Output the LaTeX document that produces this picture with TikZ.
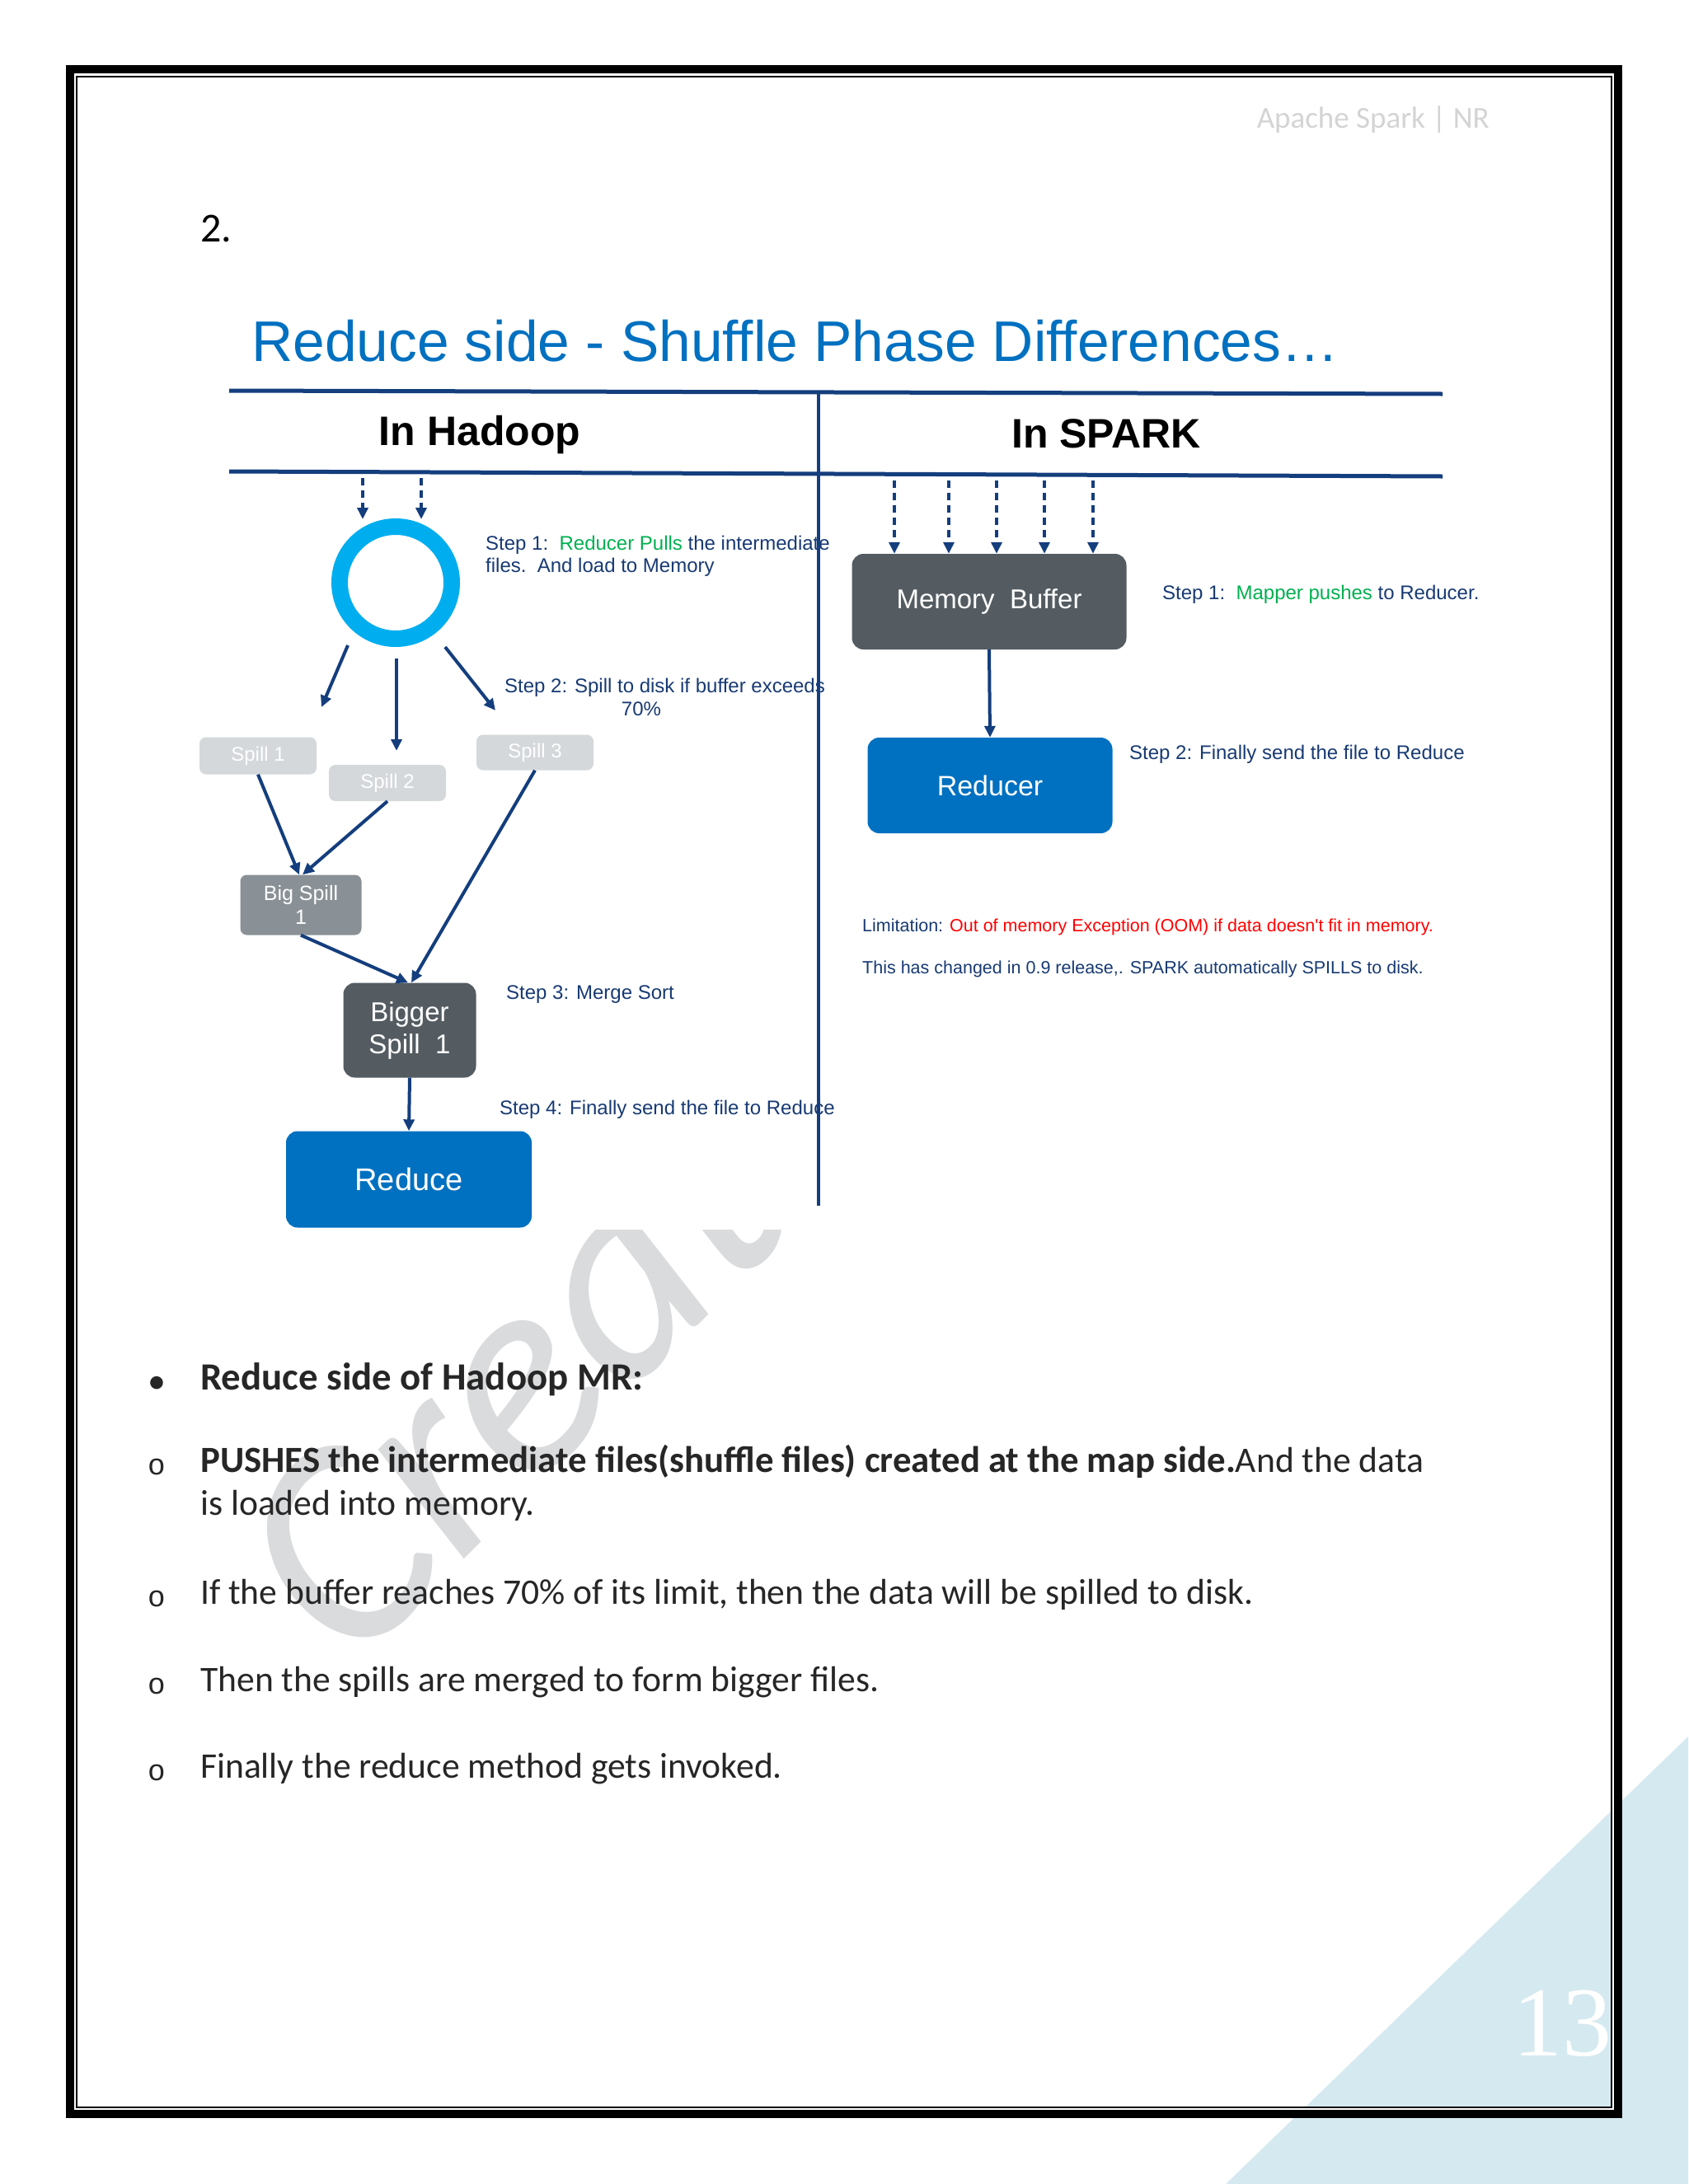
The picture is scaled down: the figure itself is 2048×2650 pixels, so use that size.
\documentclass[tikz,border=0pt]{standalone}
\usepackage{fontspec}
\setmainfont{Carlito}
\newfontfamily\arialf{Liberation Sans}
\newfontfamily\seriff{Liberation Serif}
\newfontfamily\monof{Liberation Mono}
\usetikzlibrary{arrows.meta}
\definecolor{navy}{RGB}{24,58,115}
\definecolor{linec}{RGB}{20,62,125}
\definecolor{grn}{RGB}{0,176,80}
\definecolor{ttl}{RGB}{0,112,192}
\definecolor{boxblue}{RGB}{0,112,192}
\definecolor{dgray}{RGB}{84,92,98}
\definecolor{mgray}{RGB}{138,145,150}
\definecolor{lgray}{RGB}{212,216,219}
\definecolor{ringc}{RGB}{0,174,239}
\definecolor{tri}{RGB}{213,233,240}
\definecolor{wm}{RGB}{218,219,221}
\definecolor{hdr}{RGB}{212,212,212}
\definecolor{bodyc}{RGB}{38,38,38}
\tikzset{
  steptext/.style={anchor=base west, inner sep=0pt, text=navy, font=\arialf\fontsize{24}{27}\selectfont},
  smalltext/.style={anchor=base west, inner sep=0pt, text=navy, font=\arialf\fontsize{21.5}{24}\selectfont},
  boxnode/.style={rounded corners=8pt, inner sep=0pt, align=center, text=white},
  arr/.style={draw=linec, line width=4pt, -{Triangle[length=14pt,width=13pt]}},
  dasharr/.style={draw=linec, line width=4pt, dash pattern=on 9pt off 6pt, -{Triangle[length=14pt,width=13pt]}},
  sepline/.style={draw=linec, line width=5pt},
  body/.style={anchor=base west, inner sep=0pt, text=bodyc, font=\fontsize{43.6}{52}\selectfont},
  bulletsym/.style={anchor=base, inner sep=0pt, text=bodyc}
}
\begin{document}
\begin{tikzpicture}[x=1pt,y=-1pt]
\useasboundingbox (0,0) rectangle (2048,2650);
\fill[white] (0,0) rectangle (2048,2650);
% corner triangle
\fill[tri] (2048,2107) -- (2048,2650) -- (1487,2650) -- cycle;
% watermark
\node[rotate=45, anchor=base west, inner sep=0pt, text=wm, font=\fontsize{350}{350}\selectfont\itshape] (wmark) at (425,2030) {Creat};
% diagram image background
\fill[white] (255,365) rectangle (1800,1492);
% page frame
\draw[line width=10pt, black] (85,84) rectangle (1963,2565);
\draw[line width=2pt, white] (91,90) rectangle (1957,2559);
\draw[line width=2pt, black] (93,93) rectangle (1955,2557);
% page number and header
\node[anchor=base east, inner sep=0pt, text=white, font=\seriff\fontsize{120}{120}\selectfont] (pg) at (1956,2494) {13};
\node[anchor=base east, inner sep=0pt, text=hdr, font=\fontsize{37}{37}\selectfont] (hdrtext) at (1807,155) {Apache Spark | NR};
\node[anchor=base west, inner sep=0pt, font=\fontsize{50}{50}\selectfont] (num) at (243,293) {2.};
% title
\node[anchor=base west, inner sep=0pt, text=ttl, font=\arialf\fontsize{69.5}{70}\selectfont] (title) at (305,438) {Reduce side - Shuffle Phase Differences…};
% column headings
\node[anchor=base, inner sep=0pt, font=\arialf\bfseries\fontsize{50}{50}\selectfont] (hadoop) at (582,540) {In Hadoop};
\node[anchor=base, inner sep=0pt, font=\arialf\bfseries\fontsize{50}{50}\selectfont] (spark) at (1342,543) {In SPARK};
% step texts (under the divider)
\node[steptext] (s1) at (589,667) {Step 1:\ \ \textcolor{grn}{Reducer Pulls} the intermediate};
\node[steptext] (s1b) at (589,694) {files.\ \ And load to Memory};
\node[steptext] (s2) at (612,840) {Step 2: Spill to disk if buffer exceeds};
\node[steptext, anchor=base] (s2b) at (778,868) {70\%};
\node[steptext] (s3) at (614,1212) {Step 3: Merge Sort};
\node[steptext] (s4) at (606,1352) {Step 4: Finally send the file to Reduce};
\node[steptext] (k1) at (1410,727) {Step 1:\ \ \textcolor{grn}{Mapper pushes} to Reducer.};
\node[steptext] (k2) at (1370,921) {Step 2: Finally send the file to Reduce};
\node[smalltext] (lim) at (1046,1130) {Limitation: \textcolor{red}{Out of memory Exception (OOM) if data doesn't fit in memory.}};
\node[smalltext] (chg) at (1046,1181) {This has changed in 0.9 release,. SPARK automatically SPILLS to disk.};
% separator lines
\coordinate (l1a) at (278,474); \coordinate (l1b) at (1750,478);
\coordinate (l2a) at (278,572); \coordinate (l2b) at (1750,578);
\coordinate (dva) at (993,478); \coordinate (dvb) at (993,1463);
\draw[sepline] (l1a) -- (l1b);
\draw[sepline] (l2a) -- (l2b);
\draw[draw=linec, line width=4pt] (dva) -- (dvb);
% Hadoop side
\node[circle, draw=ringc, line width=20pt, minimum size=136pt, inner sep=0pt] (ring) at (480,707) {};
\node[boxnode, fill=lgray, minimum width=142pt, minimum height=45pt, font=\arialf\fontsize{24}{24}\selectfont] (sp1) at (313,917) {Spill 1};
\node[boxnode, fill=lgray, minimum width=142pt, minimum height=44pt, font=\arialf\fontsize{24}{24}\selectfont] (sp2) at (470,950) {Spill 2};
\node[boxnode, fill=lgray, minimum width=142pt, minimum height=43pt, font=\arialf\fontsize{24}{24}\selectfont] (sp3) at (649,913) {Spill 3};
\node[boxnode, fill=mgray, minimum width=147pt, minimum height=73pt, font=\arialf\fontsize{25}{29}\selectfont] (bsp) at (365,1098) {Big Spill\\1};
\node[boxnode, fill=dgray, rounded corners=14pt, minimum width=161pt, minimum height=115pt, font=\arialf\fontsize{33}{39}\selectfont] (bigger) at (497,1250) {Bigger\\Spill\ \ 1};
\node[boxnode, fill=boxblue, rounded corners=14pt, minimum width=298pt, minimum height=117pt, font=\arialf\fontsize{38}{38}\selectfont] (reduce) at (496,1431) {Reduce};
% Hadoop arrows
\coordinate (hd1a) at (440,580); \coordinate (hd1b) at (440,630);
\coordinate (hd2a) at (511,580); \coordinate (hd2b) at (511,630);
\draw[dasharr] (hd1a) -- (hd1b);
\draw[dasharr] (hd2a) -- (hd2b);
\coordinate (r1s) at (422,783); \coordinate (r1e) at (390,858);
\coordinate (r2s) at (481,799); \coordinate (r2e) at (481,911);
\coordinate (r3s) at (540,785); \coordinate (r3e) at (601,862);
\draw[arr] (r1s) -- (r1e);
\draw[arr] (r2s) -- (r2e);
\draw[arr] (r3s) -- (r3e);
\draw[arr] (sp1.south) -- ([xshift=-2pt]bsp.north);
\draw[arr] (sp2.south) -- ([xshift=2pt]bsp.north);
\draw[arr] (sp3.south) -- ([xshift=2pt]bigger.north);
\draw[arr] (bsp.south) -- ([xshift=-2pt]bigger.north);
\draw[arr] (bigger.south) -- (reduce.north);
% Spark side
\node[boxnode, fill=dgray, rounded corners=14pt, minimum width=333pt, minimum height=116pt, font=\arialf\fontsize{33}{33}\selectfont] (mem) at (1200,730) {Memory\ \ Buffer};
\node[boxnode, fill=boxblue, rounded corners=14pt, minimum width=297pt, minimum height=116pt, font=\arialf\fontsize{34}{34}\selectfont] (red) at (1201,953) {Reducer};
\foreach \xx [count=\i] in {1085,1151,1209,1267,1326} {
  \coordinate (sk\i) at (\xx,583);
  \draw[dasharr] (sk\i) -- (sk\i |- mem.north);
}
\draw[arr] (mem.south) -- (red.north);
% body text
\node[bulletsym, font=\fontsize{44}{44}\selectfont] (bu1) at (190,1690) {•};
\node[body, font=\bfseries\fontsize{46.8}{52}\selectfont] (b1) at (243,1686) {Reduce side of Hadoop MR:};
\node[bulletsym, font=\monof\fontsize{36}{36}\selectfont] (bu2) at (190,1789) {o};
\node[body] (b2) at (243,1786) {\fontsize{44.8}{52}\selectfont\textbf{PUSHES the intermediate files(shuffle files) created at the map side.}\fontsize{43.6}{52}\selectfont And the data};
\node[body] (b2b) at (243,1838) {is loaded into memory.};
\node[bulletsym, font=\monof\fontsize{36}{36}\selectfont] (bu3) at (190,1949) {o};
\node[body] (b3) at (243,1946) {If the buffer reaches 70\% of its limit, then the data will be spilled to disk.};
\node[bulletsym, font=\monof\fontsize{36}{36}\selectfont] (bu4) at (190,2055) {o};
\node[body] (b4) at (243,2052) {Then the spills are merged to form bigger files.};
\node[bulletsym, font=\monof\fontsize{36}{36}\selectfont] (bu5) at (190,2160) {o};
\node[body] (b5) at (243,2157) {Finally the reduce method gets invoked.};
\end{tikzpicture}
\end{document}
